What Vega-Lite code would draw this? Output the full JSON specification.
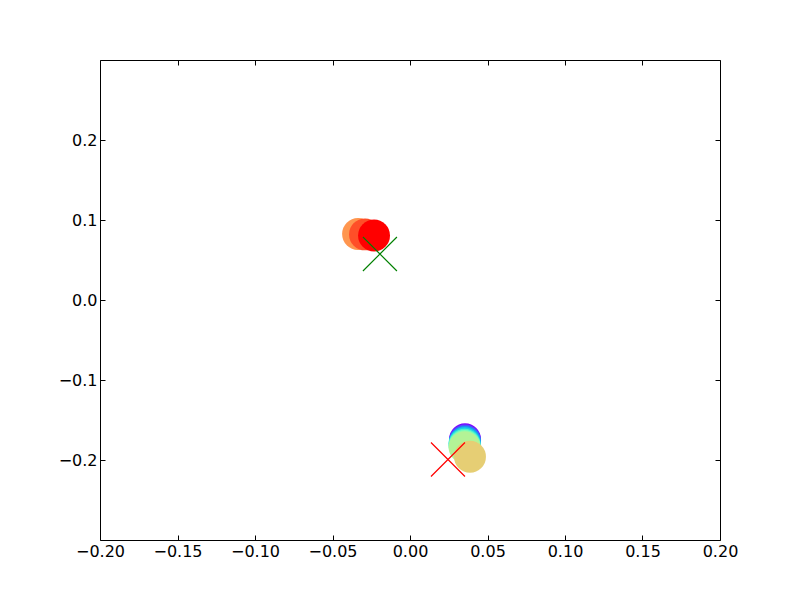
{
  "$schema": "https://vega.github.io/schema/vega-lite/v6.json",
  "autosize": {"type": "none"},
  "width": 620,
  "height": 480,
  "padding": {"left": 100, "top": 60, "right": 80, "bottom": 60},
  "background": "white",
  "config": {
    "view": {"stroke": "black", "strokeWidth": 1},
    "axis": {
      "domain": false,
      "grid": false,
      "ticks": true,
      "tickSize": -5,
      "tickColor": "black",
      "tickWidth": 1,
      "labelFont": "DejaVu Sans",
      "labelFontSize": 16,
      "labelColor": "black",
      "labelFlush": false,
      "labelOverlap": false,
      "labelBound": false,
      "title": null
    }
  },
  "datasets": {
    "pts": [
      {"c": "0.0", "x": 0.0355, "y": -0.174},
      {"c": "0.1", "x": 0.0355, "y": -0.1756},
      {"c": "0.2", "x": 0.0355, "y": -0.1775},
      {"c": "0.3", "x": 0.0352, "y": -0.179},
      {"c": "0.4", "x": 0.0352, "y": -0.181},
      {"c": "0.5", "x": 0.0352, "y": -0.1825},
      {"c": "0.6", "x": 0.0352, "y": -0.184},
      {"c": "0.7", "x": 0.0387, "y": -0.196},
      {"c": "0.8", "x": -0.0335, "y": 0.0825},
      {"c": "0.9", "x": -0.029, "y": 0.082},
      {"c": "1.0", "x": -0.0232, "y": 0.0806}
    ],
    "centers": [
      {"k": "a", "x": -0.0194, "y": 0.0575},
      {"k": "b", "x": 0.0245, "y": -0.1994}
    ]
  },
  "layer": [
    {
      "data": {"name": "pts"},
      "mark": {"type": "point", "shape": "circle", "filled": true, "opacity": 1, "strokeWidth": 0, "size": 1020},
      "encoding": {
        "x": {"field": "x", "type": "quantitative", "scale": {"domain": [-0.2, 0.2], "nice": false, "zero": false},
              "axis": {"orient": "bottom", "values": [-0.2, -0.15, -0.1, -0.05, 0, 0.05, 0.1, 0.15, 0.2], "format": ".2f", "labelPadding": 8}},
        "y": {"field": "y", "type": "quantitative", "scale": {"domain": [-0.3, 0.3], "nice": false, "zero": false},
              "axis": {"orient": "left", "values": [-0.2, -0.1, 0, 0.1, 0.2], "format": ".1f", "labelPadding": 8}},
        "color": {"field": "c", "type": "nominal", "legend": null,
                  "scale": {"domain": ["0.0","0.1","0.2","0.3","0.4","0.5","0.6","0.7","0.8","0.9","1.0"],
                            "range": ["#8000ff","#4d4ffc","#1996f3","#19cee3","#4df3ce","#80ffb4","#b3f396","#e6ce74","#ff964f","#ff4f28","#ff0000"]}}
      }
    },
    {
      "data": {"name": "centers"},
      "mark": {"type": "point", "shape": "M-1,-1L1,1M-1,1L1,-1", "filled": false, "size": 1156, "strokeWidth": 1.2, "opacity": 1},
      "encoding": {
        "x": {"field": "x", "type": "quantitative", "axis": {"orient": "top", "labels": false, "values": [-0.2, -0.15, -0.1, -0.05, 0, 0.05, 0.1, 0.15, 0.2]}},
        "y": {"field": "y", "type": "quantitative", "axis": {"orient": "right", "labels": false, "values": [-0.2, -0.1, 0, 0.1, 0.2]}},
        "stroke": {"field": "k", "type": "nominal", "legend": null,
                   "scale": {"domain": ["a", "b"], "range": ["#008000", "#ff0000"]}}
      }
    }
  ],
  "resolve": {"axis": {"x": "independent", "y": "independent"}, "scale": {"color": "independent"}}
}
